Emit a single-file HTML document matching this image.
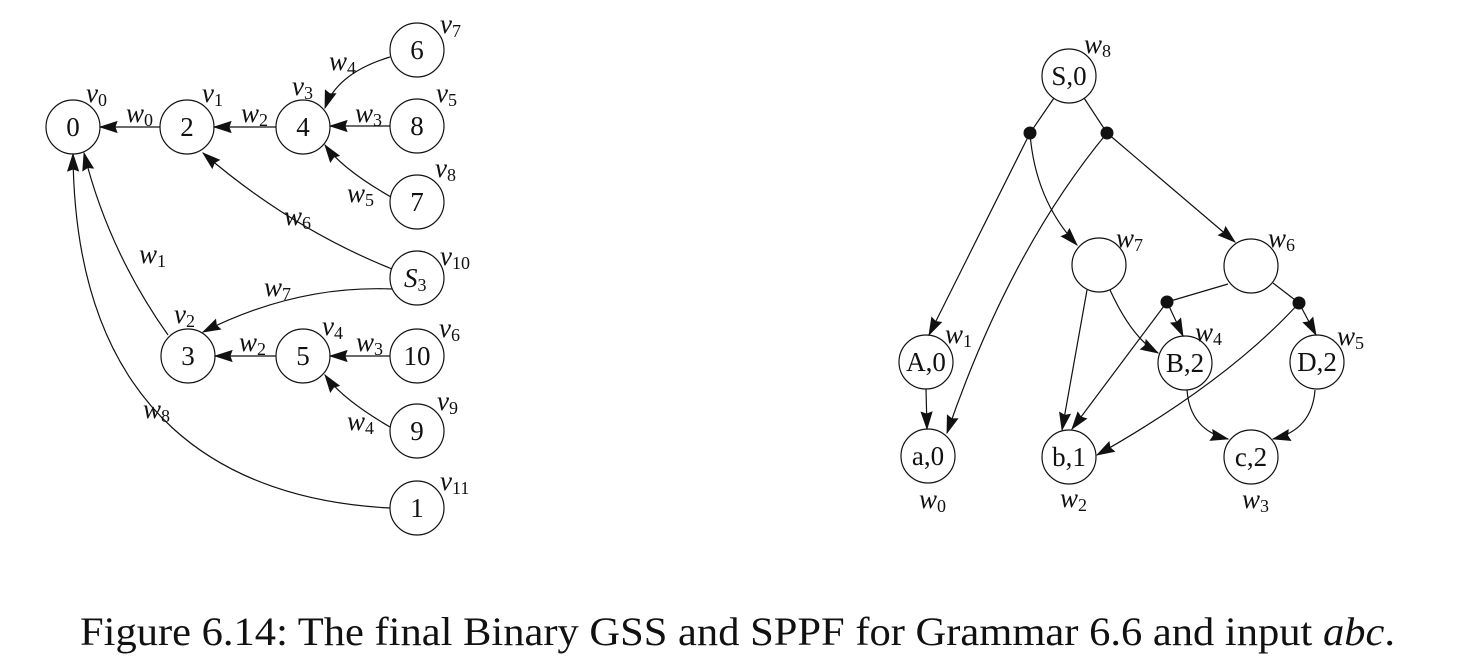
<!DOCTYPE html>
<html><head><meta charset="utf-8"><style>
html,body{margin:0;padding:0;background:#fff;}
svg{display:block;}
text{font-family:"Liberation Serif",serif;fill:#111;}
.n{font-size:27px;text-anchor:middle;}
.l{font-size:27px;font-style:italic;}
.s{font-size:18px;font-style:normal;}
</style></head><body>
<svg width="1466" height="672" viewBox="0 0 1466 672" xmlns="http://www.w3.org/2000/svg">
<defs>
<marker id="a" markerUnits="userSpaceOnUse" markerWidth="24" markerHeight="16" refX="17" refY="5.5" orient="auto" overflow="visible">
<path d="M0,0 L17,5.5 L0,11 L2,5.5 z" fill="#111" stroke="#111" stroke-width="0.8"/>
</marker>
</defs>
<g fill="none" stroke="#111" stroke-width="1.2">
<!-- LEFT GSS -->
<circle cx="73" cy="127" r="27"/>
<circle cx="187" cy="127" r="27"/>
<circle cx="303" cy="127" r="27"/>
<circle cx="417" cy="50" r="27"/>
<circle cx="417" cy="126" r="27"/>
<circle cx="417" cy="202" r="27"/>
<circle cx="417" cy="278" r="27"/>
<circle cx="188" cy="356" r="27"/>
<circle cx="303" cy="356" r="27"/>
<circle cx="417" cy="356" r="27"/>
<circle cx="417" cy="431" r="27"/>
<circle cx="417" cy="508" r="27"/>
<path d="M160,127 L100,127" marker-end="url(#a)"/>
<path d="M276,127 L214,127" marker-end="url(#a)"/>
<path d="M390,126 L330,126" marker-end="url(#a)"/>
<path d="M276,356 L215,356" marker-end="url(#a)"/>
<path d="M390,356 L330,356" marker-end="url(#a)"/>
<path d="M390,57 Q337,73 325,108" marker-end="url(#a)"/>
<path d="M391,197 Q342,169 325,145" marker-end="url(#a)"/>
<path d="M390,427 Q342,399 325,375" marker-end="url(#a)"/>
<path d="M392,269 Q290,228 203,153" marker-end="url(#a)"/>
<path d="M392,289 Q296,285 203,332" marker-end="url(#a)"/>
<path d="M168,335 Q108,250 84,153" marker-end="url(#a)"/>
<path d="M390,508 C230,500 75,420 73,154" marker-end="url(#a)"/>
<!-- RIGHT SPPF -->
<circle cx="1069" cy="76" r="27"/>
<circle cx="1099" cy="265" r="27"/>
<circle cx="1251" cy="266" r="27"/>
<circle cx="926" cy="362" r="27"/>
<circle cx="928" cy="456" r="27"/>
<circle cx="1069" cy="457" r="27"/>
<circle cx="1185" cy="363" r="27"/>
<circle cx="1317" cy="362" r="27"/>
<circle cx="1251" cy="457" r="27"/>
<path d="M1054,98 L1030,133"/>
<path d="M1084,98 L1107,133"/>
<path d="M1030,133 L929,335" marker-end="url(#a)"/>
<path d="M1030,133 Q1035,200 1077,245" marker-end="url(#a)"/>
<path d="M1107,133 Q1010,250 947,433" marker-end="url(#a)"/>
<path d="M1107,133 L1235,242" marker-end="url(#a)"/>
<path d="M1087,290 L1062,430" marker-end="url(#a)"/>
<path d="M1110,290 Q1132,338 1158,353" marker-end="url(#a)"/>
<path d="M1228,284 L1167,302"/>
<path d="M1273,283 L1299,303"/>
<path d="M1167,302 L1183,336" marker-end="url(#a)"/>
<path d="M1167,302 L1072,429" marker-end="url(#a)"/>
<path d="M1299,303 L1316,335" marker-end="url(#a)"/>
<path d="M1299,303 Q1228,381 1097,455" marker-end="url(#a)"/>
<path d="M1187,390 Q1190,430 1228,439" marker-end="url(#a)"/>
<path d="M1315,390 Q1312,430 1273,439" marker-end="url(#a)"/>
<path d="M926,389 L927,429" marker-end="url(#a)"/>
</g>
<g fill="#111">
<circle cx="1030" cy="133" r="6.5"/>
<circle cx="1107" cy="133" r="6.5"/>
<circle cx="1167" cy="302" r="6.5"/>
<circle cx="1299" cy="303" r="6.5"/>
</g>
<!-- node labels left -->
<text class="n" x="73" y="136">0</text>
<text class="n" x="187" y="136">2</text>
<text class="n" x="303" y="136">4</text>
<text class="n" x="417" y="59">6</text>
<text class="n" x="417" y="135">8</text>
<text class="n" x="417" y="211">7</text>
<text class="l" x="404" y="287">S<tspan class="s" dy="4">3</tspan></text>
<text class="n" x="188" y="365">3</text>
<text class="n" x="303" y="365">5</text>
<text class="n" x="417" y="365">10</text>
<text class="n" x="417" y="440">9</text>
<text class="n" x="417" y="517">1</text>
<!-- v labels -->
<text class="l" x="86" y="102">v<tspan class="s" dy="4">0</tspan></text>
<text class="l" x="202" y="102">v<tspan class="s" dy="4">1</tspan></text>
<text class="l" x="292" y="95">v<tspan class="s" dy="4">3</tspan></text>
<text class="l" x="440" y="33">v<tspan class="s" dy="4">7</tspan></text>
<text class="l" x="436" y="102">v<tspan class="s" dy="4">5</tspan></text>
<text class="l" x="435" y="177">v<tspan class="s" dy="4">8</tspan></text>
<text class="l" x="440" y="265">v<tspan class="s" dy="4">10</tspan></text>
<text class="l" x="174" y="323">v<tspan class="s" dy="4">2</tspan></text>
<text class="l" x="322" y="335">v<tspan class="s" dy="4">4</tspan></text>
<text class="l" x="439" y="337">v<tspan class="s" dy="4">6</tspan></text>
<text class="l" x="437" y="410">v<tspan class="s" dy="4">9</tspan></text>
<text class="l" x="440" y="490">v<tspan class="s" dy="4">11</tspan></text>
<!-- w labels left -->
<text class="l" x="126" y="122">w<tspan class="s" dy="4">0</tspan></text>
<text class="l" x="241" y="122">w<tspan class="s" dy="4">2</tspan></text>
<text class="l" x="355" y="122">w<tspan class="s" dy="4">3</tspan></text>
<text class="l" x="329" y="70">w<tspan class="s" dy="4">4</tspan></text>
<text class="l" x="347" y="202">w<tspan class="s" dy="4">5</tspan></text>
<text class="l" x="284" y="225">w<tspan class="s" dy="4">6</tspan></text>
<text class="l" x="139" y="263">w<tspan class="s" dy="4">1</tspan></text>
<text class="l" x="264" y="296">w<tspan class="s" dy="4">7</tspan></text>
<text class="l" x="239" y="351">w<tspan class="s" dy="4">2</tspan></text>
<text class="l" x="356" y="351">w<tspan class="s" dy="4">3</tspan></text>
<text class="l" x="347" y="430">w<tspan class="s" dy="4">4</tspan></text>
<text class="l" x="143" y="418">w<tspan class="s" dy="4">8</tspan></text>
<!-- right node labels -->
<text class="n" x="1069" y="85">S,0</text>
<text class="n" x="926" y="371">A,0</text>
<text class="n" x="928" y="465">a,0</text>
<text class="n" x="1069" y="466">b,1</text>
<text class="n" x="1185" y="372">B,2</text>
<text class="n" x="1317" y="371">D,2</text>
<text class="n" x="1251" y="466">c,2</text>
<!-- right w labels -->
<text class="l" x="1084" y="53">w<tspan class="s" dy="4">8</tspan></text>
<text class="l" x="1116" y="247">w<tspan class="s" dy="4">7</tspan></text>
<text class="l" x="1268" y="247">w<tspan class="s" dy="4">6</tspan></text>
<text class="l" x="945" y="343">w<tspan class="s" dy="4">1</tspan></text>
<text class="l" x="1195" y="341">w<tspan class="s" dy="4">4</tspan></text>
<text class="l" x="1337" y="345">w<tspan class="s" dy="4">5</tspan></text>
<text class="l" x="919" y="508">w<tspan class="s" dy="4">0</tspan></text>
<text class="l" x="1060" y="507">w<tspan class="s" dy="4">2</tspan></text>
<text class="l" x="1242" y="508">w<tspan class="s" dy="4">3</tspan></text>
<!-- caption -->
<text x="80" y="645" font-size="40" textLength="1315" lengthAdjust="spacingAndGlyphs">Figure 6.14: The final Binary GSS and SPPF for Grammar 6.6 and input <tspan font-style="italic">abc</tspan>.</text>
</svg>
</body></html>
